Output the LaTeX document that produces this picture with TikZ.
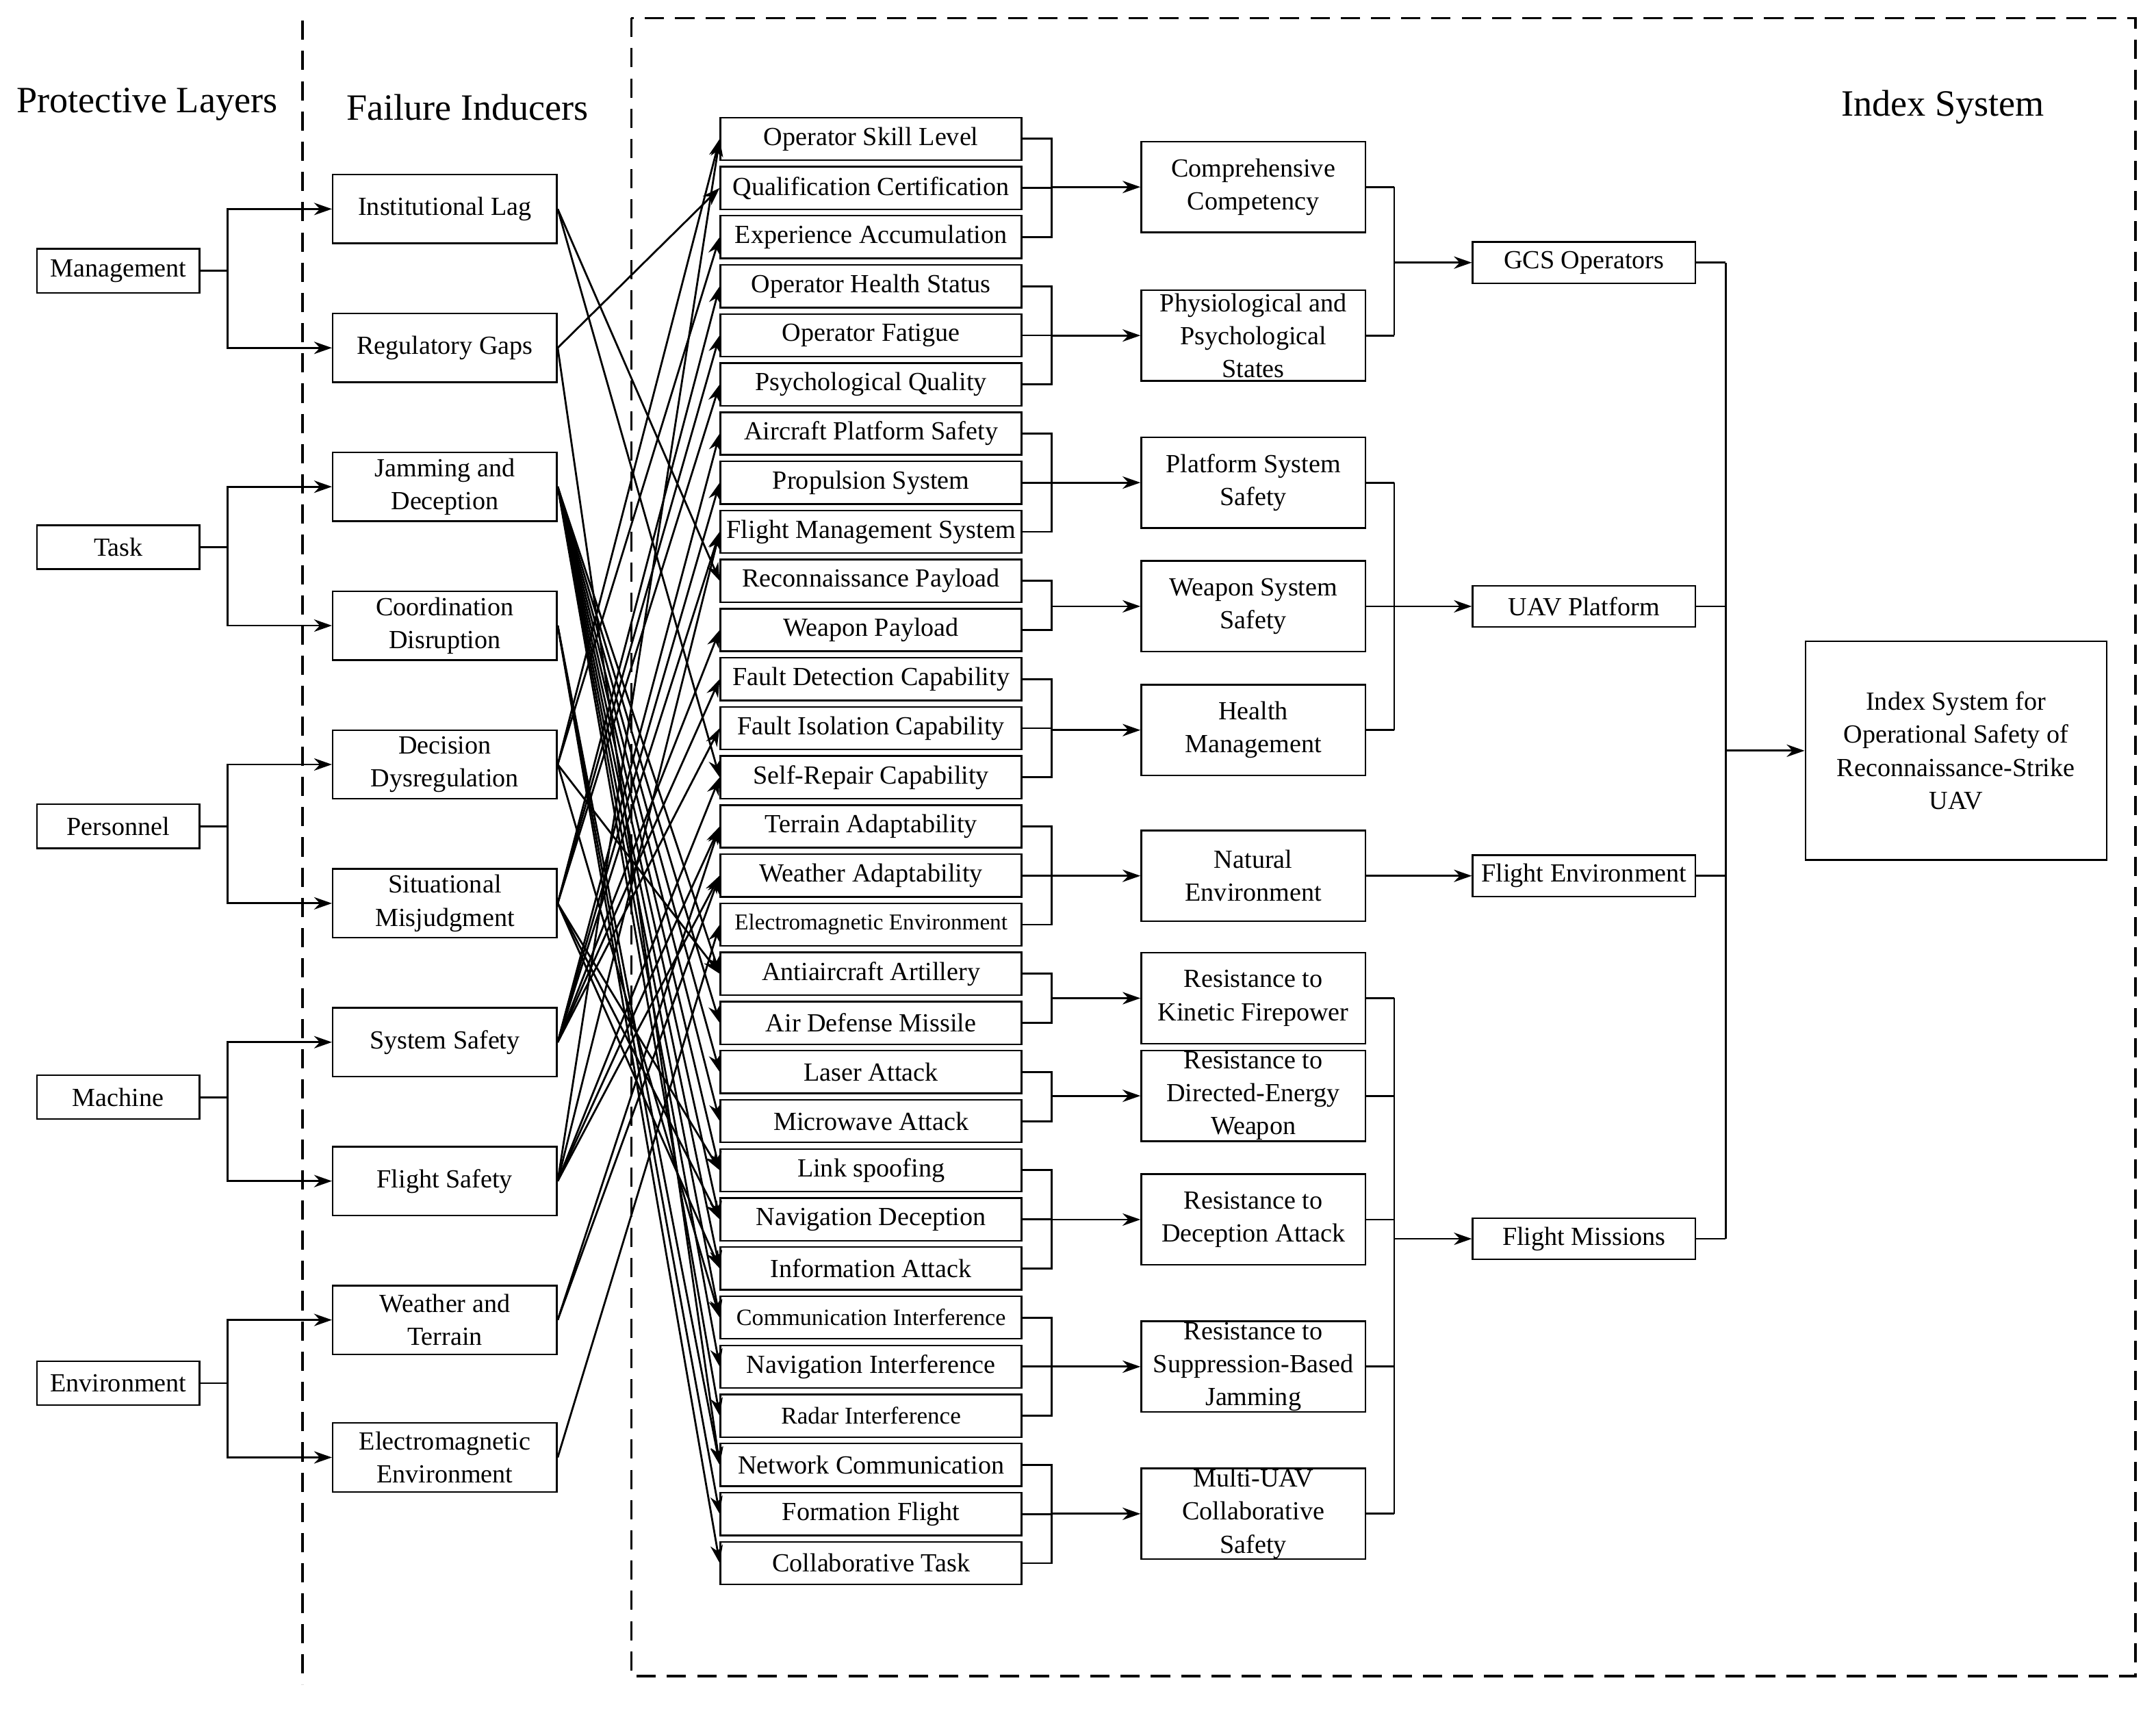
\documentclass[tikz,border=0pt]{standalone}
\usepackage{fontspec}
\setmainfont{Liberation Serif}
\usetikzlibrary{arrows.meta}
\begin{document}
\begin{tikzpicture}[x=1pt,y=-1pt,
  box/.style={draw,line width=1.2pt,inner sep=0pt,align=center,font=\fontsize{19}{24}\selectfont},
  lay/.style={box,minimum width=118pt,minimum height=32pt},
  ind/.style={box,minimum width=163pt,minimum height=50pt},
  itm/.style={box,minimum width=219pt,minimum height=31pt},
  grp/.style={box,minimum width=163pt,minimum height=66pt},
  cat/.style={box,minimum width=162pt,minimum height=30pt},
  ln/.style={line width=1.4pt},
  ar/.style={ln,-{Stealth[length=13pt,width=9pt]}},
  hd/.style={font=\fontsize{27}{30}\selectfont}]
\useasboundingbox (0,0) rectangle (1568,1244);
\node[hd] at (107,76) {Protective Layers};
\node[hd] at (340,78) {Failure Inducers};
\node[hd] at (1413,78) {Index System};
\draw[line width=1.6pt,dash pattern=on 14pt off 8pt] (220,15) -- (220,1225);
\draw[line width=1.6pt,dash pattern=on 14pt off 8pt] (459,13) rectangle (1553,1219);
% layers
\foreach \n/\t/\y in {L1/Management/197,L2/Task/398,L3/Personnel/601,L4/Machine/798,L5/Environment/1006}
  \node[lay] (\n) at (86,\y) {\t};
% inducers
\foreach \n/\t/\y in {I1/Institutional Lag/152,I2/Regulatory Gaps/253,I3/Jamming and\\Deception/354,I4/Coordination\\Disruption/455,I5/Decision\\Dysregulation/556,I6/Situational\\Misjudgment/657,I7/System Safety/758,I8/Flight Safety/859,I9/Weather and\\Terrain/960,I10/Electromagnetic\\Environment/1060}
  \node[ind] (\n) at (323.5,\y) {\t};
\foreach \l/\a/\b in {L1/I1/I2,L2/I3/I4,L3/I5/I6,L4/I7/I8,L5/I9/I10}{
  \coordinate (m\l) at ([xshift=20pt]\l.east);
  \draw[ln] (\l.east) -- (m\l);
  \draw[ar] (m\l) |- (\a.west);
  \draw[ar] (m\l) |- (\b.west);
}
% items
\foreach \i/\t in {1/Operator Skill Level,2/Qualification Certification,3/Experience Accumulation,4/Operator Health Status,5/Operator Fatigue,6/Psychological Quality,7/Aircraft Platform Safety,8/Propulsion System,9/Flight Management System,10/Reconnaissance Payload,11/Weapon Payload,12/Fault Detection Capability,13/Fault Isolation Capability,14/Self-Repair Capability,15/Terrain Adaptability,16/Weather Adaptability,17/{\fontsize{16.5}{20}\selectfont Electromagnetic Environment},18/Antiaircraft Artillery,19/Air Defense Missile,20/Laser Attack,21/Microwave Attack,22/Link spoofing,23/Navigation Deception,24/Information Attack,25/{\fontsize{17}{20}\selectfont Communication Interference},26/Navigation Interference,27/{\fontsize{17.5}{20}\selectfont Radar Interference},28/Network Communication,29/Formation Flight,30/Collaborative Task}
  \node[itm] (T\i) at (633.5,{101+(\i-1)*35.72}) {\t};
% groups
\foreach \n/\t/\y in {G1/Comprehensive\\Competency/136,G2/Physiological and\\Psychological\\States/244,G3/Platform System\\Safety/351,G4/Weapon System\\Safety/441,G5/Health\\Management/531,G6/Natural\\Environment/637,G7/Resistance to\\Kinetic Firepower/726,G8/Resistance to\\Directed-Energy\\Weapon/797,G9/Resistance to\\Deception Attack/887,G10/Resistance to\\Suppression-Based\\Jamming/994,G11/Multi-UAV\\Collaborative\\Safety/1101}
  \node[grp] (\n) at (911.5,\y) {\t};
% item brackets
\foreach \g/\a/\b in {G1/1/3,G2/4/6,G3/7/9,G4/10/11,G5/12/14,G6/15/17,G7/18/19,G8/20/21,G9/22/24,G10/25/27,G11/28/30}{
  \draw[ln] (T\a.east) -- (765,0 |- T\a.east) -- (765,0 |- T\b.east) -- (T\b.east);
  \coordinate (b\g) at (765,0 |- \g.west);
  \draw[ar] (b\g) -- (\g.west);
}
\foreach \i in {2,5,8,13,16,23,26,29}
  \draw[ln] (T\i.east) -- (765,0 |- T\i.east);
% categories
\foreach \n/\t/\y in {C1/GCS Operators/191,C2/UAV Platform/441,C3/Flight Environment/637,C4/Flight Missions/901}
  \node[cat] (\n) at (1152,\y) {\t};
\foreach \g in {G1,G2,G3,G4,G5,G7,G8,G9,G10,G11}
  \draw[ln] (\g.east) -- (1014,0 |- \g.east);
\draw[ln] (1014,136) -- (1014,244);
\draw[ln] (1014,351) -- (1014,531);
\draw[ln] (1014,726) -- (1014,1101);
\coordinate (c1) at (1014,191); \coordinate (c2) at (1014,441); \coordinate (c4) at (1014,901);
\draw[ar] (c1) -- (C1.west);
\draw[ar] (c2) -- (C2.west);
\draw[ar] (c4) -- (C4.west);
\draw[ar] (G6.east) -- (C3.west);
% final
\node[box,minimum width=219pt,minimum height=159pt] (F) at (1422.5,546) {Index System for\\Operational Safety of\\Reconnaissance-Strike\\UAV};
\foreach \c in {C1,C2,C3,C4}
  \draw[ln] (\c.east) -- (1255,0 |- \c.east);
\draw[ln] (1255,191) -- (1255,901);
\coordinate (f0) at (1255,546);
\draw[ar] (f0) -- (F.west);
% inducer -> item
\foreach \s/\t in {I1/10,I1/14,I2/2,I2/28,
  I3/18,I3/19,I3/20,I3/21,I3/22,I3/23,I3/24,I3/25,I3/26,I3/27,
  I4/28,I4/29,I4/30,I6/22,I6/23,I6/24,I5/18,I5/25,
  I5/1,I5/3,I6/4,I6/5,I6/6,
  I7/7,I7/8,I7/9,I7/11,I7/12,I7/13,
  I8/1,I8/9,I8/14,I8/15,I8/16,
  I9/15,I9/16,I10/17}
  \draw[ar] (\s.east) -- (T\t.west);
\end{tikzpicture}
\end{document}
